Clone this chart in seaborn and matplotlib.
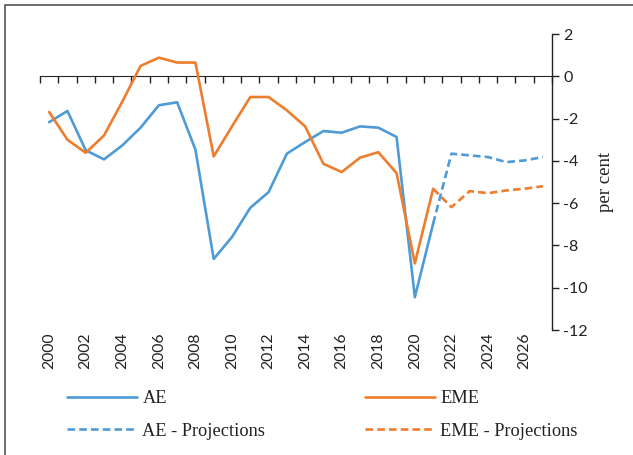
import numpy as np
import pandas as pd
import matplotlib.pyplot as plt
from matplotlib.patches import Rectangle
import seaborn as sns

# data
years = list(range(2000, 2028))
ae = [-2.17, -1.64, -3.5, -3.93, -3.27, -2.43, -1.37, -1.23, -3.47, -8.64,
      -7.6, -6.22, -5.48, -3.66, -3.11, -2.59, -2.67, -2.37, -2.43, -2.87,
      -10.45, -6.97, -3.66, -3.74, -3.82, -4.06, -3.98, -3.82]
eme = [-1.69, -3.0, -3.62, -2.8, -1.2, 0.49, 0.88, 0.65, 0.65, -3.79,
       -2.37, -0.98, -0.98, -1.61, -2.37, -4.14, -4.53, -3.85, -3.59, -4.58,
       -8.85, -5.32, -6.19, -5.43, -5.53, -5.4, -5.32, -5.2]
last_actual = 2021
xlabels = list(range(2000, 2027, 2))
yticks = list(range(-12, 3, 2))

df = pd.DataFrame({'year': years, 'AE': ae, 'EME': eme})
hist = df[df.year <= last_actual]
proj = df[df.year >= last_actual]

blue = '#4e9bd6'
orange = '#ee7d2d'
dash = (0, (2.9, 1.55))

sns.set_style('white')
plt.rcParams['font.family'] = ['Lato', 'DejaVu Sans']
serif = ['Liberation Serif', 'DejaVu Serif']

fig = plt.figure(figsize=(6.33, 4.55), dpi=100)
ax = fig.add_axes([40/633, 1-330/455, 512/633, 296/455])

sns.lineplot(data=hist, x='year', y='AE', color=blue, lw=1.9, ax=ax, label='AE')
sns.lineplot(data=proj, x='year', y='AE', color=blue, lw=1.9, ls=dash, ax=ax, label='AE - Projections')
sns.lineplot(data=hist, x='year', y='EME', color=orange, lw=1.9, ax=ax, label='EME')
sns.lineplot(data=proj, x='year', y='EME', color=orange, lw=1.9, ls=dash, ax=ax, label='EME - Projections')

ax.set_xlim(years[0] - 0.5, years[-1] + 0.5)
ax.set_ylim(-12, 2)

# right y axis
for s in ['left', 'top', 'bottom']:
    ax.spines[s].set_visible(False)
ax.spines['right'].set_color('#222222')
ax.spines['right'].set_linewidth(1.0)
ax.yaxis.tick_right()
ax.yaxis.set_label_position('right')
ax.set_yticks(yticks)
ax.set_yticklabels([str(t) for t in yticks])
ax.tick_params(axis='y', direction='out', length=5, width=1.0, color='#222222',
               labelsize=11.5, pad=3, labelcolor='#222222')
ax.set_ylabel('per cent', family=serif, fontsize=13.5, labelpad=7, color='#222222')

# x labels at the bottom
ax.set_xticks(xlabels)
ax.set_xticklabels([str(y) for y in xlabels], rotation=90)
ax.tick_params(axis='x', length=0, labelsize=11.3, pad=2, labelcolor='#222222')
ax.set_xlabel('')

# x axis line at zero with ticks between categories
zero_pos = (0 - (-12)) / (2 - (-12))
sec = ax.secondary_xaxis(zero_pos)
sec.set_xticks([y - 0.5 for y in years] + [years[-1] + 0.5])
sec.set_xticklabels([])
sec.spines['bottom'].set_color('#222222')
sec.spines['bottom'].set_linewidth(1.0)
sec.xaxis.set_ticks_position('bottom')
sec.tick_params(axis='x', direction='out', length=5, width=1.0, color='#222222')

ax.grid(False)

leg = ax.legend(loc='upper left', bbox_to_anchor=(0.039, -0.178), ncol=2, frameon=False,
                prop={'family': serif, 'size': 13.2},
                handlelength=3.8, handletextpad=0.3, columnspacing=5.45, labelspacing=0.86,
                borderaxespad=0)
for t in leg.get_texts():
    t.set_color('#222222')

fig.add_artist(Rectangle((5/633, -0.1), 1.2, 1.1 - 5.5/455, transform=fig.transFigure,
                         fill=False, edgecolor='#555555', lw=1.2))

fig.savefig('out.png', dpi=100)
